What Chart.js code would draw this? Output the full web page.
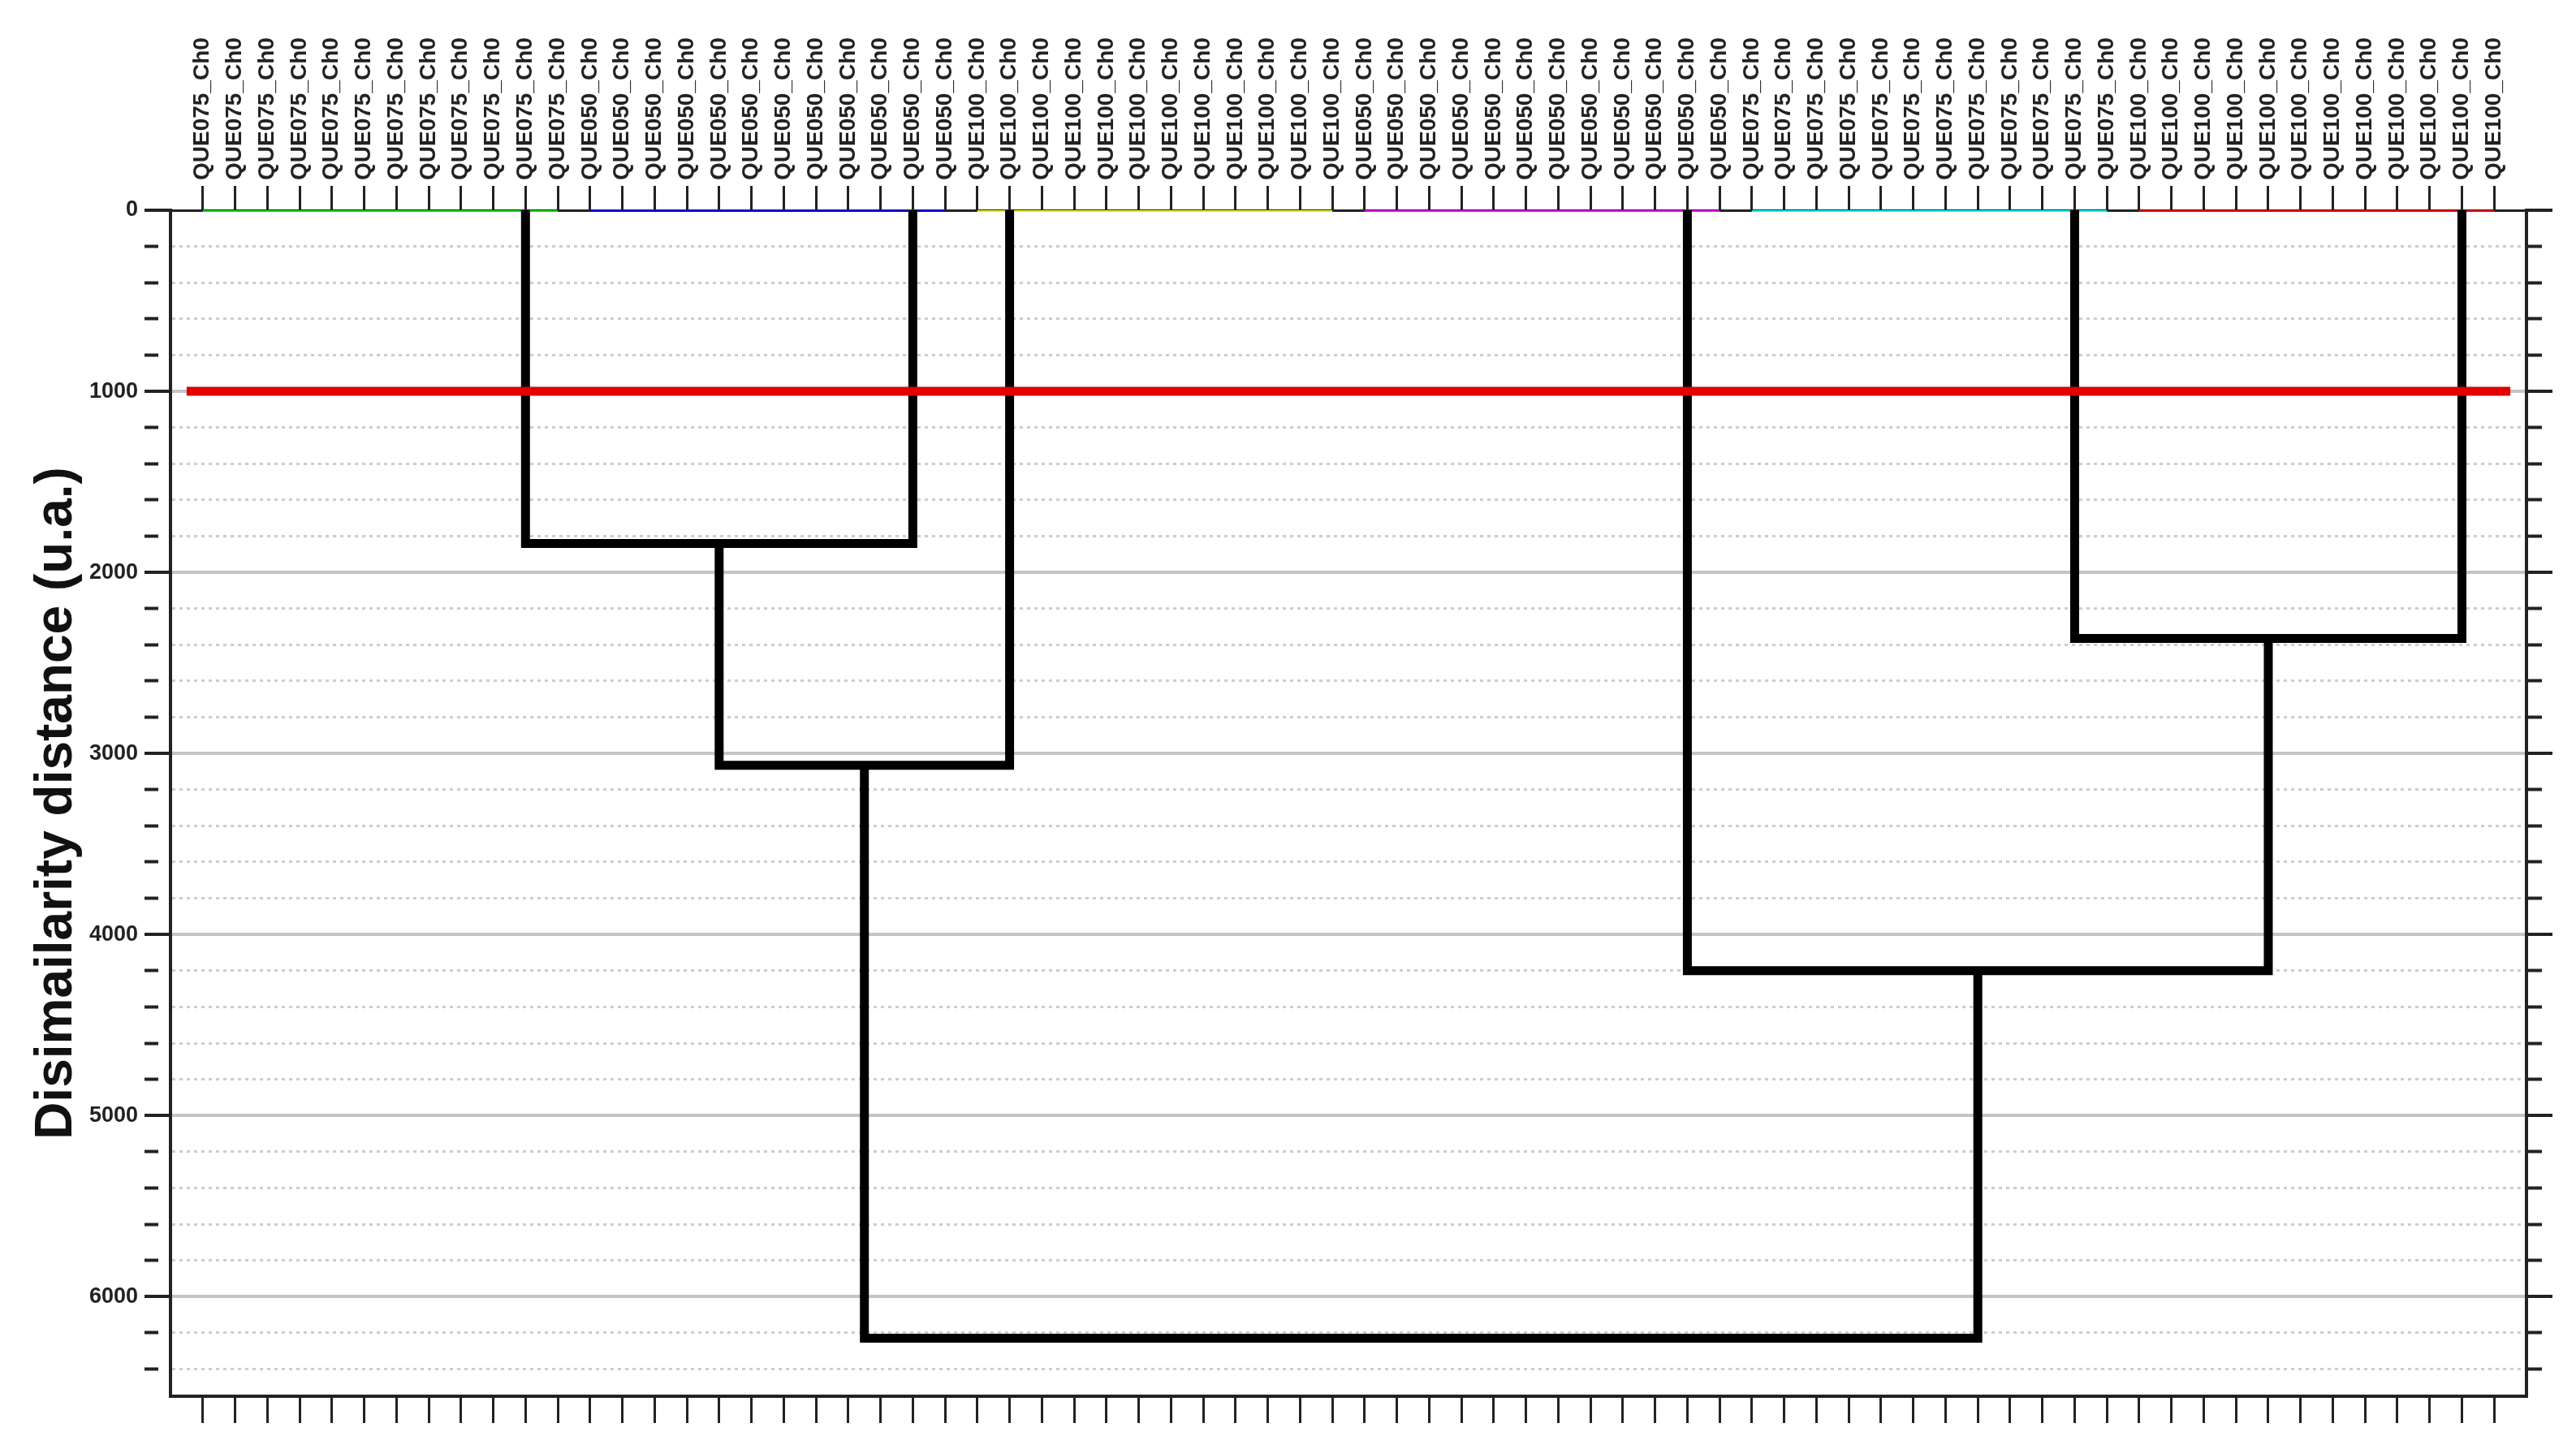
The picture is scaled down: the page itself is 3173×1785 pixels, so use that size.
<!DOCTYPE html>
<html>
<head>
<meta charset="utf-8">
<script src="https://cdn.jsdelivr.net/npm/chart.js@4.4.1/dist/chart.umd.min.js"></script>
<style>
  html, body { margin: 0; padding: 0; background: #fff; }
</style>
</head>
<body>
<canvas id="dendro" width="3173" height="1785"></canvas>
<script>
// leaf groups, left to right (each group is one colored cluster)
const groupNames = ['QUE075', 'QUE050', 'QUE100', 'QUE050', 'QUE075', 'QUE100'];
const groupSizes = [12, 12, 12, 12, 12, 12];
const groupColors = ['#00e600', '#0000ff', '#eeee00', '#ff00ff', '#00ffff', '#ff0000'];
// leaf index where each cluster's stem leaves the baseline
const groupStems = [10, 22, 25, 46, 58, 70];

// merges, scipy style: nodes 0-5 are the clusters, 6+ are earlier merges
const mergeLeft = [0, 6, 4, 3, 7];
const mergeRight = [1, 2, 5, 8, 9];
const mergeHeights = [1840, 3065, 2365, 4200, 6230];

const cutHeight = 1000;
const yMax = 6550;
const yMajorStep = 1000;
const yMinorStep = 200;

const FONT = '"Liberation Sans", Arial, sans-serif';
const INK = '#222';
const LEAF_FONT = 28;
const LEAF_LINE = 1.2;

const leafLabels = [];
groupNames.forEach((name, g) => {
  for (let i = 0; i < groupSizes[g]; i++) leafLabels.push(name + '_Ch0');
});
const nLeaves = leafLabels.length;

// colored baselines of the clusters
const datasets = [];
let start = 0;
groupSizes.forEach((size, g) => {
  datasets.push({
    data: [{ x: start, y: 0 }, { x: start + size - 1, y: 0 }],
    borderColor: groupColors[g],
    borderWidth: 4,
    order: 3,
  });
  start += size;
});

// links of the tree
const nodeX = groupStems.slice();
const nodeH = groupStems.map(() => 0);
mergeLeft.forEach((a, k) => {
  const b = mergeRight[k];
  const h = mergeHeights[k];
  datasets.push({
    data: [
      { x: nodeX[a], y: nodeH[a] },
      { x: nodeX[a], y: h },
      { x: nodeX[b], y: h },
      { x: nodeX[b], y: nodeH[b] },
    ],
    borderColor: '#000',
    borderWidth: 11,
    order: 2,
  });
  nodeX.push((nodeX[a] + nodeX[b]) / 2);
  nodeH.push(h);
});

// cut line
datasets.push({
  data: [{ x: -0.5, y: cutHeight }, { x: nLeaves - 0.5, y: cutHeight }],
  borderColor: '#e00000',
  borderWidth: 11,
  order: 1,
});

datasets.forEach((d) => {
  d.xAxisID = 'x';
  d.yAxisID = 'y';
});

const isMajor = (c) => c.tick && c.tick.value % yMajorStep === 0;
const leafTicks = (scale) => {
  scale.ticks = leafLabels.map((_, i) => ({ value: i }));
};

const yGrid = {
  color: (c) => (c.tick && c.tick.value === 0 ? 'rgba(0,0,0,0)' : isMajor(c) ? '#c4c4c4' : '#cdcdcd'),
  lineWidth: (c) => (isMajor(c) ? 4 : 3),
  tickLength: 32,
  tickWidth: 4,
  tickColor: INK,
  tickBorderDash: (c) => (isMajor(c) ? [] : [17, 40]),
};

new Chart(document.getElementById('dendro'), {
  type: 'line',
  data: { datasets },
  options: {
    responsive: false,
    animation: false,
    layout: { padding: 0 },
    elements: {
      point: { radius: 0, hoverRadius: 0 },
      line: { tension: 0, borderJoinStyle: 'miter', borderCapStyle: 'butt', fill: false },
    },
    plugins: { legend: { display: false }, tooltip: { enabled: false } },
    scales: {
      x: {
        type: 'linear',
        position: 'bottom',
        min: -1,
        max: nLeaves,
        afterBuildTicks: leafTicks,
        afterFit: (s) => { s.height = 65; },
        ticks: { display: false },
        grid: { drawOnChartArea: false, tickLength: 33, tickWidth: 3, tickColor: INK },
        border: { color: INK, width: 4 },
      },
      xTop: {
        type: 'linear',
        position: 'top',
        min: -1,
        max: nLeaves,
        afterBuildTicks: leafTicks,
        afterFit: (s) => { s.height = 259; },
        ticks: {
          autoSkip: false,
          maxRotation: 90,
          minRotation: 90,
          padding: 7,
          // rotated top labels are pushed left by one line height, put them back over the tick
          labelOffset: LEAF_FONT * LEAF_LINE,
          color: INK,
          font: { family: FONT, size: LEAF_FONT, weight: 'bold', lineHeight: LEAF_LINE },
          callback: (v) => leafLabels[v],
        },
        grid: { drawOnChartArea: false, tickLength: 30, tickWidth: 3, tickColor: INK },
        border: { color: INK, width: 3 },
      },
      y: {
        type: 'linear',
        position: 'left',
        reverse: true,
        min: 0,
        max: yMax,
        afterFit: (s) => { s.width = 210; },
        ticks: {
          stepSize: yMinorStep,
          includeBounds: false,
          autoSkip: false,
          padding: 8,
          color: INK,
          font: { family: FONT, size: 27, weight: 'bold' },
          callback: (v) => (v % yMajorStep === 0 ? String(v) : ''),
        },
        grid: yGrid,
        border: { color: INK, width: 4, dash: (c) => (c.tick && !isMajor(c) ? [4, 5] : []) },
        title: {
          display: true,
          text: 'Disimailarity distance (u.a.)',
          color: '#111',
          font: { family: FONT, size: 64, weight: 'bold' },
          padding: { top: 32, bottom: 0 },
        },
      },
      yRight: {
        type: 'linear',
        position: 'right',
        reverse: true,
        min: 0,
        max: yMax,
        afterFit: (s) => { s.width = 61; },
        ticks: { display: false, stepSize: yMinorStep, includeBounds: false, autoSkip: false },
        grid: Object.assign({}, yGrid, { drawOnChartArea: false }),
        border: { color: INK, width: 4 },
      },
    },
  },
});
</script>
</body>
</html>
